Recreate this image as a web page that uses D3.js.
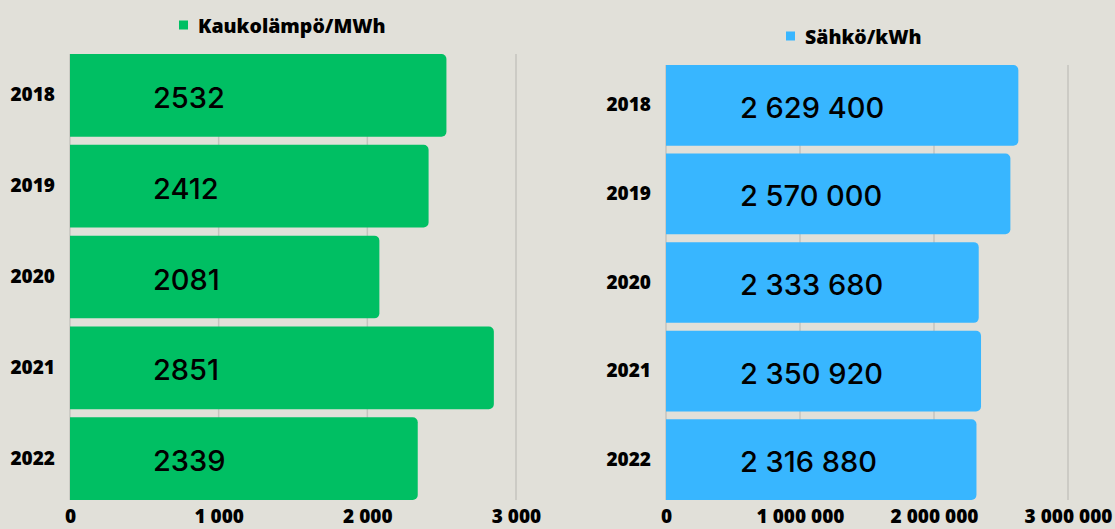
<!DOCTYPE html>
<html>
<head>
<meta charset="utf-8">
<script src="https://cdn.jsdelivr.net/npm/d3@7"></script>
<style>
  html, body { margin: 0; padding: 0; background: #e1e0d9; }
  svg { display: block; }
</style>
</head>
<body>
<div id="chart"></div>
<script>
// data
const years = ["2018", "2019", "2020", "2021", "2022"];
const heatValues = [2532, 2412, 2081, 2851, 2339];
const powerValues = [2629400, 2570000, 2333680, 2350920, 2316880];
const heatTicks = [0, 1000, 2000, 3000];
const powerTicks = [0, 1000000, 2000000, 3000000];
const heatName = "Kaukolämpö/MWh";
const powerName = "Sähkö/kWh";

const w = 1115;
const h = 529;

const fi = d3.formatLocale({ decimal: ",", thousands: "\u00a0", grouping: [3], currency: ["", " €"] });
const spaced = fi.format(",d");

const svg = d3.select("#chart")
  .append("svg")
  .attr("width", w)
  .attr("height", h);

svg.append("rect").attr("width", w).attr("height", h).attr("fill", "#e1e0d9");

// left square corners, rounded on the right end
function barPath(x0, x1, y, bh, r) {
  const p = d3.path();
  p.moveTo(x0, y);
  p.lineTo(x1 - r, y);
  p.arcTo(x1, y, x1, y + r, r);
  p.lineTo(x1, y + bh - r);
  p.arcTo(x1, y + bh, x1 - r, y + bh, r);
  p.lineTo(x0, y + bh);
  p.closePath();
  return p.toString();
}

function drawPanel(opt) {
  const g = svg.append("g");

  const x = d3.scaleLinear()
    .domain([0, opt.ticks[opt.ticks.length - 1]])
    .range(opt.xRange);

  const y = d3.scaleBand()
    .domain(years)
    .range(opt.yRange)
    .paddingInner(0.089)
    .paddingOuter(0);

  // grid
  g.selectAll("line.grid")
    .data(opt.ticks)
    .enter()
    .append("line")
    .attr("class", "grid")
    .attr("x1", d => x(d))
    .attr("x2", d => x(d))
    .attr("y1", opt.yRange[0])
    .attr("y2", opt.yRange[1])
    .attr("stroke", "#c5c4be")
    .attr("stroke-width", 1.5);

  // bars
  g.selectAll("path.bar")
    .data(opt.values)
    .enter()
    .append("path")
    .attr("class", "bar")
    .attr("d", (d, i) => barPath(x(0), x(d), y(years[i]), y.bandwidth(), 5))
    .attr("fill", opt.color);

  // value labels inside bars
  g.selectAll("text.val")
    .data(opt.values)
    .enter()
    .append("text")
    .attr("class", "val")
    .attr("x", x(0) + opt.labelOffset)
    .attr("y", (d, i) => y(years[i]) + y.bandwidth() / 2 + 2)
    .attr("dominant-baseline", "central")
    .attr("font-family", "Inter, 'Open Sans', sans-serif")
    .attr("font-weight", 500)
    .attr("font-size", 29)
    .attr("fill", "#000")
    .text(d => opt.valueFormat(d));

  // year labels
  g.append("g")
    .attr("transform", `translate(${x(0)}, 0)`)
    .call(d3.axisLeft(y).tickSize(0).tickPadding(15))
    .call(a => a.select(".domain").remove())
    .selectAll("text")
    .attr("font-family", "'Open Sans', sans-serif")
    .attr("font-weight", 800)
    .attr("font-size", 19)
    .attr("fill", "#000");

  // x axis labels
  g.append("g")
    .attr("transform", `translate(0, ${opt.yRange[1]})`)
    .call(d3.axisBottom(x).tickValues(opt.ticks).tickFormat(spaced).tickSize(0).tickPadding(10))
    .call(a => a.select(".domain").remove())
    .selectAll("text")
    .attr("font-family", "'Open Sans', sans-serif")
    .attr("font-weight", 800)
    .attr("font-size", 19)
    .attr("fill", "#000");

  // legend
  g.append("rect")
    .attr("x", opt.legend[0])
    .attr("y", opt.legend[1] - 4.5)
    .attr("width", 9)
    .attr("height", 9)
    .attr("fill", opt.color);

  g.append("text")
    .attr("x", opt.legend[0] + 19)
    .attr("y", opt.legend[1])
    .attr("dominant-baseline", "central")
    .attr("font-family", "'Open Sans', sans-serif")
    .attr("font-weight", 800)
    .attr("font-size", 19.5)
    .attr("fill", "#000")
    .text(opt.name);
}

drawPanel({
  values: heatValues,
  ticks: heatTicks,
  name: heatName,
  color: "#00bf63",
  xRange: [70, 516],
  yRange: [54, 500],
  labelOffset: 83,
  valueFormat: d3.format("d"),
  legend: [179, 25]
});

drawPanel({
  values: powerValues,
  ticks: powerTicks,
  name: powerName,
  color: "#38b6ff",
  xRange: [666, 1068],
  yRange: [65, 500],
  labelOffset: 74,
  valueFormat: spaced,
  legend: [786, 36]
});
</script>
</body>
</html>
